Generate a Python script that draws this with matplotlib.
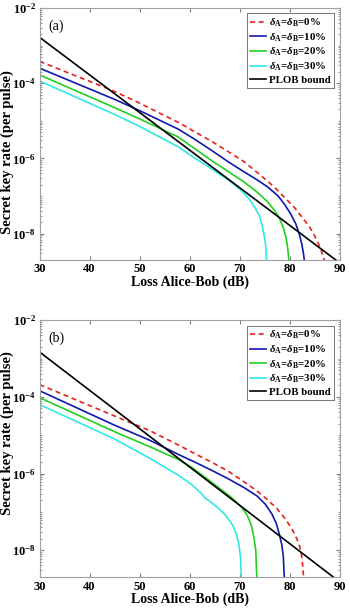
import numpy as np
import matplotlib
matplotlib.use("Agg")
import matplotlib.pyplot as plt
from matplotlib.ticker import LogLocator, NullFormatter

plt.rcParams['font.family'] = 'Liberation Serif'
plt.rcParams['font.weight'] = 'bold'
plt.rcParams['axes.labelweight'] = 'bold'
plt.rcParams['mathtext.fontset'] = 'custom'
plt.rcParams['mathtext.rm'] = 'Liberation Serif:bold'
plt.rcParams['mathtext.it'] = 'Liberation Serif:italic:bold'
plt.rcParams['mathtext.bf'] = 'Liberation Serif:bold'

# values: loss (dB) and log10 of key rate
# panel (a)
loss_red_a = [30, 40, 45, 50, 57.7, 61.0, 64.3, 67.6, 70.9, 74.2, 76.9, 78.9, 80.9, 82.5,
              83.8, 84.8, 85.6, 86.2, 86.6, 86.9, 86.9]
log_red_a = [-3.42, -3.95, -4.22, -4.53, -5.04, -5.29, -5.54, -5.81, -6.09, -6.45, -6.76,
             -7.03, -7.30, -7.57, -7.79, -8.01, -8.23, -8.41, -8.59, -8.70, -9.5]
loss_blue_a = [30, 45, 50, 57.7, 61.0, 64.3, 67.6, 70.9, 73.6, 75.6, 77.6, 78.9, 80.2, 81.2,
               81.9, 82.4, 82.7, 82.9, 82.9]
log_blue_a = [-3.60, -4.43, -4.73, -5.22, -5.49, -5.78, -6.08, -6.36, -6.58, -6.76, -6.99,
              -7.21, -7.48, -7.74, -8.01, -8.28, -8.50, -8.70, -9.5]
loss_green_a = [30, 45, 50, 57.7, 61.0, 64.3, 67.6, 70.9, 73.6, 75.6, 77.0, 78.0, 78.8, 79.3,
                79.6, 79.8, 79.8]
log_green_a = [-3.78, -4.65, -4.95, -5.43, -5.74, -6.05, -6.34, -6.63, -6.91, -7.16, -7.39,
               -7.61, -7.88, -8.14, -8.41, -8.70, -9.5]
loss_cyan_a = [30, 45, 50, 57.7, 61.0, 64.3, 67.6, 70.3, 71.9, 73.0, 73.9, 74.5, 74.9, 75.2,
               75.35, 75.35]
log_cyan_a = [-3.94, -4.83, -5.15, -5.69, -5.99, -6.27, -6.56, -6.85, -7.08, -7.30, -7.52,
              -7.79, -8.06, -8.32, -8.70, -9.5]
loss_plob_a = [30, 90]
log_plob_a = [-2.78, -8.78]

# panel (b)
loss_red_b = [30, 45, 52, 58.4, 61.0, 64.3, 67.6, 70.9, 73.5, 75.5, 77.4, 79.1, 80.4, 81.4,
              82.0, 82.4, 82.6, 82.75, 82.75]
log_red_b = [-3.68, -4.50, -4.88, -5.30, -5.48, -5.70, -5.93, -6.22, -6.46, -6.68, -6.91,
             -7.18, -7.44, -7.70, -7.91, -8.18, -8.44, -8.70, -9.5]
loss_blue_b = [30, 45, 52, 57.7, 61.0, 64.3, 67.6, 70.9, 73.5, 75.1, 76.4, 77.3, 77.9, 78.4,
               78.7, 78.9, 78.9]
log_blue_b = [-3.84, -4.74, -5.13, -5.50, -5.70, -5.91, -6.13, -6.37, -6.59, -6.80, -7.05,
              -7.30, -7.58, -7.86, -8.15, -8.70, -9.5]
loss_green_b = [30, 45, 52, 57.7, 60.3, 63.0, 65.6, 68.2, 70.2, 71.5, 72.3, 72.8, 73.2, 73.4,
                73.4]
log_green_b = [-4.02, -4.91, -5.30, -5.63, -5.83, -6.09, -6.35, -6.61, -6.85, -7.09, -7.35,
               -7.65, -8.00, -8.70, -9.5]
loss_cyan_b = [30, 45, 52, 56, 57.7, 60.3, 62.3, 63.0, 63.9, 65.6, 67.2, 68.6, 69.4, 69.9,
               70.2, 70.3, 70.3]
log_cyan_b = [-4.20, -5.10, -5.60, -5.91, -6.04, -6.28, -6.51, -6.63, -6.71, -6.89, -7.09,
              -7.35, -7.61, -7.91, -8.26, -8.70, -9.5]
loss_plob_b = [30, 90]
log_plob_b = [-2.83, -8.83]

labels = [r'$\delta_{\rm A}$=$\delta_{\rm B}$=0%',
          r'$\delta_{\rm A}$=$\delta_{\rm B}$=10%',
          r'$\delta_{\rm A}$=$\delta_{\rm B}$=20%',
          r'$\delta_{\rm A}$=$\delta_{\rm B}$=30%',
          'PLOB bound']
colors = ['#e82020', '#1018b0', '#20d020', '#30e8e8', 'black']
styles = ['--', '-', '-', '-', '-']

panels = [
    ('(a)', 0.43, [(loss_red_a, log_red_a), (loss_blue_a, log_blue_a),
                   (loss_green_a, log_green_a), (loss_cyan_a, log_cyan_a),
                   (loss_plob_a, log_plob_a)]),
    ('(b)', 0.56, [(loss_red_b, log_red_b), (loss_blue_b, log_blue_b),
                   (loss_green_b, log_green_b), (loss_cyan_b, log_cyan_b),
                   (loss_plob_b, log_plob_b)]),
]

fig = plt.figure(figsize=(3.5, 6.11), dpi=100)
positions = [[0.113, 0.5745, 0.858, 0.4125], [0.113, 0.0556, 0.858, 0.4204]]

for pos, (tag, ylab_y, series) in zip(positions, panels):
    ax = fig.add_axes(pos)
    for (x, lg), c, ls, lab in zip(series, colors, styles, labels):
        ax.plot(x, 10.0 ** np.array(lg), color=c, ls=ls, lw=1.2, label=lab,
                dashes=(3, 2.2) if ls == '--' else (None, None))
    ax.set_yscale('log')
    ax.set_xlim(30, 90)
    ax.set_ylim(2e-9, 1e-2)
    ax.set_xticks([30, 40, 50, 60, 70, 80, 90])
    ax.set_yticks([1e-8, 1e-6, 1e-4, 1e-2])
    ax.yaxis.set_minor_locator(LogLocator(base=10, subs=np.arange(1, 10), numticks=20))
    ax.yaxis.set_minor_formatter(NullFormatter())
    ax.tick_params(which='both', direction='in', top=True, right=True, labelsize=9,
                   color='#808080', pad=2.5)
    ax.tick_params(which='major', length=3)
    ax.tick_params(which='minor', length=1.5)
    for t in ax.get_xticklabels() + ax.get_yticklabels():
        t.set_fontweight('bold')
    for sp in ax.spines.values():
        sp.set_color('#a0a0a0')
        sp.set_linewidth(0.8)
    ax.set_xlabel('Loss Alice-Bob (dB)', fontsize=10, fontweight='bold', labelpad=0)
    ax.set_ylabel('Secret key rate (per pulse)', fontsize=10.5, fontweight='bold')
    ax.yaxis.set_label_coords(-0.084, ylab_y)
    ax.text(0.03, 0.955, tag, transform=ax.transAxes, fontsize=10, fontweight='normal',
            va='top', ha='left')
    leg = ax.legend(loc='upper right', fontsize=7.8, handlelength=1.5, handletextpad=0.3,
                    borderpad=0.3, labelspacing=0.2, fancybox=False, framealpha=1,
                    borderaxespad=0.5)
    leg.get_frame().set_edgecolor('#606060')
    leg.get_frame().set_linewidth(0.6)

fig.savefig('out.png', dpi=100)
